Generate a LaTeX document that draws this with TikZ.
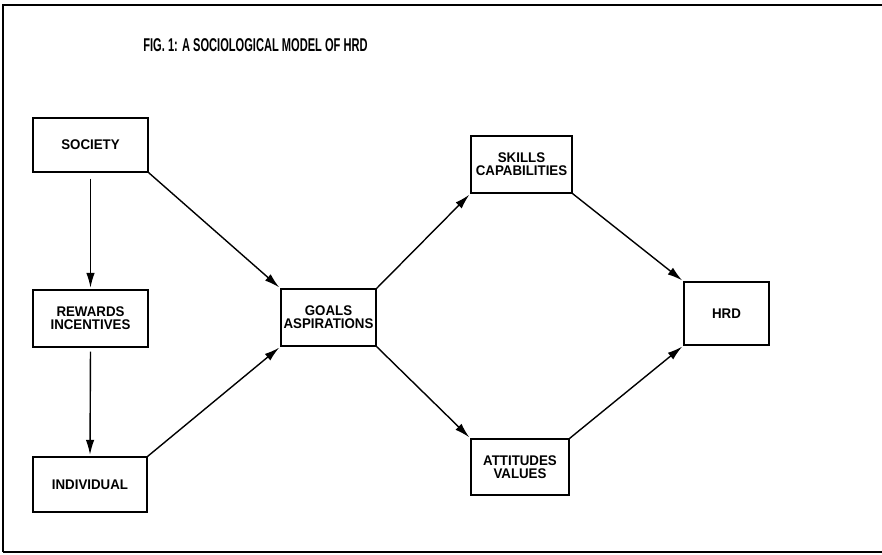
\documentclass[tikz,border=0pt]{standalone}
\usepackage{fontspec}
\setmainfont{Liberation Sans}
\newfontfamily\titlefont[FakeStretch=0.6]{Liberation Sans}
\newfontfamily\boxfont[FakeStretch=0.95]{Liberation Sans}
\usetikzlibrary{arrows.meta}
\begin{document}
\begin{tikzpicture}[x=1pt,y=-1pt,
  box/.style={draw, line width=1.3pt, inner sep=0pt, align=center,
    font=\boxfont\bfseries\fontsize{14}{13}\selectfont},
  conn/.style={line width=1.4pt, -{Latex[length=15pt,width=8.5pt]}, shorten >=1.5pt},
  frameline/.style={line width=1.5pt}]
\useasboundingbox (0,0) rectangle (882,554);
\fill[white] (0,0) rectangle (882,554);
% frame
\draw[frameline] (3,552) -- (3,5) -- (882,5);
\draw[frameline] (3,552) -- (882,552);
% title
\node (title) at (255.5,45) {\titlefont\bfseries\fontsize{18.5}{18.5}\selectfont FIG. 1: A SOCIOLOGICAL MODEL OF HRD};
% boxes
\node[box, minimum width=115pt, minimum height=54pt] (soc) at (90.5,145) {SOCIETY};
\node[box, minimum width=115pt, minimum height=57pt] (rew) at (90.5,318.5) {REWARDS\\INCENTIVES};
\node[box, minimum width=114pt, minimum height=55pt] (ind) at (90,484.5) {INDIVIDUAL};
\node[box, minimum width=95pt, minimum height=57pt] (goal) at (328.5,317.5) {GOALS\\ASPIRATIONS};
\node[box, minimum width=101pt, minimum height=57pt] (skill) at (521.5,164.5) {SKILLS\\CAPABILITIES};
\node[box, minimum width=85pt, minimum height=63pt] (hrd) at (726.5,313.5) {HRD};
\node[box, minimum width=98pt, minimum height=56pt] (att) at (520,467) {ATTITUDES\\VALUES};
% connectors
\draw[conn, shorten <=6pt] (soc.south) -- (rew.north);
\draw[conn, shorten <=4pt] (rew.south) -- (ind.north);
\draw[conn] (soc.south east) -- (goal.north west);
\draw[conn] (ind.north east) -- (goal.south west);
\draw[conn] (goal.north east) -- (skill.south west);
\draw[conn] (goal.south east) -- (att.north west);
\draw[conn] (skill.south east) -- (hrd.north west);
\draw[conn] (att.north east) -- (hrd.south west);
\end{tikzpicture}
\end{document}
